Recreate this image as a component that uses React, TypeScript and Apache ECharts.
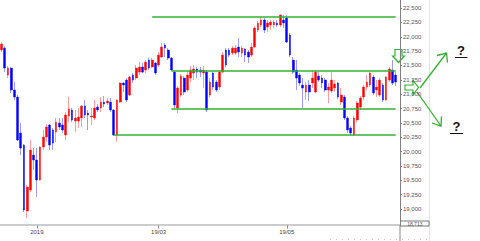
import React, { useEffect, useRef } from "react";
import * as echarts from "echarts";

// trading days shown (Dec 2018 - Jun 2019)
const dec2018 = [13, 14, 17, 18, 19, 20, 21, 25, 26, 27, 28];
const jan2019 = [4, 7, 8, 9, 10, 11, 15, 16, 17, 18, 21, 22, 23, 24, 25, 28, 29, 30, 31];
const feb2019 = [1, 4, 5, 6, 7, 8, 12, 13, 14, 15, 18, 19, 20, 21, 22, 25, 26, 27, 28];
const mar2019 = [1, 4, 5, 6, 7, 8, 11, 12, 13, 14, 15, 18, 19, 20, 22, 25, 26, 27, 28, 29];
const apr2019 = [1, 2, 3, 4, 5, 8, 9, 10, 11, 12, 15, 16, 17, 18, 19, 22, 23, 24, 25, 26];
const may2019 = [7, 8, 9, 10, 13, 14, 15, 16, 17, 20, 21, 22, 23, 24, 27, 28, 29, 30, 31];
const jun2019 = [3, 4, 5, 6, 7, 10, 11, 12, 13, 14, 17, 18, 19, 20, 21, 24];

const pad = (n: number) => (n < 10 ? "0" + n : "" + n);
const categories: string[] = [
  ...dec2018.map((d) => `2018/12/${pad(d)}`),
  ...jan2019.map((d) => `2019/01/${pad(d)}`),
  ...feb2019.map((d) => `2019/02/${pad(d)}`),
  ...mar2019.map((d) => `2019/03/${pad(d)}`),
  ...apr2019.map((d) => `2019/04/${pad(d)}`),
  ...may2019.map((d) => `2019/05/${pad(d)}`),
  ...jun2019.map((d) => `2019/06/${pad(d)}`),
];

const opens = [
  21769, 21803, 21333, 21455, 21072, 20950, 20323, 20114, 18966, 19331,
  19940, 19853, 19505, 20080, 20254, 20463, 20376, 20341, 20498, 20463,
  20289, 20620, 20724, 20532, 20532, 20585, 20793, 20672, 20602, 20585,
  20776, 20759, 20863, 20846, 20863, 20724, 20289, 20863, 21194, 21246,
  20985, 21333, 21281, 21385, 21473, 21420, 21594, 21473, 21542, 21507,
  21647, 21856, 21769, 21629, 21385, 20759, 20985, 21281, 21072, 21281,
  21368, 21438, 21420, 21368, 21385, 20985, 21368, 21211, 21124, 21385,
  21769, 21769, 21716, 21716, 21821, 21716, 21786, 21734, 21681, 21821,
  22117, 22204, 22291, 22169, 22204, 22204, 22239, 22204, 22291, 22326,
  22030, 21594, 21420, 21333, 21159, 21037, 21159, 21194, 21037, 21316,
  21281, 21246, 21072, 21055, 21107, 21194, 20863, 20950, 20585, 20411,
  20289, 20550, 20776, 20950, 21124, 21159, 21298, 21072, 20985, 21159,
  20898, 21246, 21420, 21333,
];
const closes = [
  21873, 21455, 21455, 21072, 20950, 20201, 20062, 18983, 19383, 20027,
  19853, 19505, 20080, 20254, 20428, 20114, 20149, 20515, 20428, 20376,
  20637, 20741, 20550, 20585, 20602, 20793, 20637, 20637, 20620, 20759,
  20724, 20863, 20828, 20881, 20724, 20289, 20898, 21194, 21159, 20898,
  21298, 21246, 21455, 21473, 21385, 21560, 21455, 21594, 21368, 21681,
  21821, 21803, 21629, 21420, 20811, 21107, 21316, 21037, 21333, 21420,
  21438, 21385, 21385, 21420, 20724, 21211, 21124, 21072, 21385, 21681,
  21507, 21681, 21803, 21803, 21734, 21803, 21681, 21647, 21821, 22152,
  22239, 22291, 22117, 22239, 22256, 22256, 22204, 22378, 22239, 21908,
  21681, 21385, 21281, 21194, 21107, 21159, 21037, 21281, 21385, 21246,
  21194, 21072, 21124, 21246, 21177, 20950, 20985, 20585, 20376, 20323,
  20585, 20846, 20933, 21124, 21211, 21368, 21020, 21124, 21246, 20898,
  21298, 21438, 21194, 21211,
];
const highs = [
  21908, 21838, 21490, 21473, 21211, 20985, 20498, 20132, 19418, 20201,
  20062, 20062, 20090, 20376, 20480, 20480, 20411, 20585, 20585, 20585,
  20689, 20950, 20759, 20724, 20759, 20811, 20898, 20724, 20759, 20898,
  20828, 20950, 20968, 20933, 20933, 20741, 20915, 21211, 21211, 21281,
  21316, 21368, 21507, 21560, 21542, 21594, 21629, 21629, 21560, 21734,
  21890, 21890, 21803, 21647, 21420, 21142, 21351, 21316, 21385, 21490,
  21507, 21473, 21473, 21490, 21420, 21281, 21385, 21246, 21420, 21734,
  21803, 21803, 21838, 21856, 21977, 21838, 21803, 21769, 21890, 22186,
  22273, 22343, 22326, 22291, 22291, 22291, 22291, 22395, 22378, 22378,
  22065, 21647, 21594, 21368, 21281, 21211, 21246, 21420, 21420, 21385,
  21333, 21281, 21194, 21385, 21246, 21211, 21107, 20985, 20620, 20446,
  20620, 20881, 20968, 21159, 21333, 21385, 21333, 21246, 21281, 21194,
  21316, 21473, 21594, 21385,
];
const lows = [
  21734, 21385, 21281, 21020, 20898, 20184, 19940, 18948, 18844, 19296,
  19679, 19209, 19495, 20027, 20167, 20027, 20027, 20167, 20376, 20323,
  20201, 20515, 20515, 20341, 20411, 20428, 20585, 20376, 20463, 20550,
  20689, 20689, 20776, 20811, 20689, 20271, 20167, 20846, 21037, 20863,
  20968, 21194, 21246, 21333, 21368, 21368, 21420, 21455, 21333, 21473,
  21629, 21647, 21594, 21403, 20759, 20672, 20950, 20985, 21037, 21211,
  21246, 21281, 21298, 21107, 20689, 20950, 21072, 21037, 21072, 21368,
  21473, 21647, 21681, 21681, 21647, 21647, 21560, 21542, 21647, 21803,
  22082, 22169, 22065, 22082, 22117, 22152, 22169, 22169, 22152, 21890,
  21647, 21351, 21072, 21142, 20759, 20898, 20881, 21107, 21020, 21211,
  21107, 21037, 20846, 21020, 21037, 20915, 20811, 20550, 20323, 20289,
  20271, 20515, 20724, 20898, 21072, 21124, 20985, 20950, 20950, 20863,
  20881, 21211, 21159, 21142,
];

// support / resistance levels drawn on the chart
const levelValues = [22352, 21415, 20741, 20289];
const levelStarts = ["2019/02/27", "2019/03/07", "2019/03/07", "2019/02/08"];
const levelEnds = ["2019/06/24", "2019/06/24", "2019/06/24", "2019/06/24"];

// axis ticks
const yTicks = [19000, 19250, 19500, 19750, 20000, 20250, 20500, 20750, 21000, 21250, 21500, 21750, 22000, 22250, 22500];
const yMin = 18713;
const yMax = 22640;
const axisMinLabel = "18,713";
const xTickDates = ["2019/01/04", "2019/03/01", "2019/05/07"];
const xTickTexts = ["2019", "19/03", "19/05"];

const GREEN = "#33b033";

export default function App() {
  const ref = useRef<HTMLDivElement>(null);
  useEffect(() => {
    if (!ref.current) return;
    const chart = echarts.init(ref.current, null, { renderer: "svg" });
    const wickData = categories.map((_, i) => [opens[i], closes[i], lows[i], highs[i]]);
    const bodyData = categories.map((_, i) => [
      opens[i],
      closes[i],
      Math.min(opens[i], closes[i]),
      Math.max(opens[i], closes[i]),
    ]);
    const tickIdx = new Set(xTickDates.map((d) => categories.indexOf(d)));
    const tickText: Record<string, string> = {};
    xTickDates.forEach((d, i) => (tickText[d] = xTickTexts[i]));
    const fmt = (v: number) => String(v).replace(/\B(?=(\d{3})+(?!\d))/g, ",");

    const option: any = {
      animation: false,
      backgroundColor: "#ffffff",
      grid: { left: -2.3, right: 82.7, top: 0, bottom: 15.5 },
      xAxis: {
        type: "category",
        data: categories,
        boundaryGap: true,
        axisLine: { show: false },
        axisTick: {
          show: true,
          alignWithLabel: true,
          interval: (i: number) => tickIdx.has(i),
          length: 3,
          lineStyle: { color: "#888", width: 1 },
        },
        axisLabel: {
          interval: (i: number) => tickIdx.has(i),
          formatter: (v: string) => tickText[v] || "",
          fontSize: 6,
          margin: 3,
          color: "#444",
          fontFamily: "Liberation Sans",
        },
        splitLine: { show: false },
      },
      yAxis: {
        type: "value",
        position: "right",
        offset: 2.7,
        min: yMin,
        max: yMax,
        scale: true,
        axisLine: { show: true, lineStyle: { color: "#808080", width: 1 } },
        axisTick: { show: true, customValues: yTicks, length: 2, lineStyle: { color: "#808080" } },
        axisLabel: {
          customValues: yTicks,
          formatter: (v: number) => fmt(v),
          fontSize: 6,
          margin: 3,
          color: "#555",
          fontFamily: "Liberation Sans",
        },
        splitLine: { show: false },
      },
      series: [
        {
          type: "candlestick",
          data: wickData,
          barWidth: 1,
          itemStyle: {
            color: "#ff9c9c",
            color0: "#9c9cff",
            borderColor: "#ff9c9c",
            borderColor0: "#9c9cff",
            borderWidth: 1,
          },
          silent: true,
        },
        {
          type: "candlestick",
          data: bodyData,
          barWidth: 2.2,
          itemStyle: {
            color: "#ff0000",
            color0: "#0000ff",
            borderColor: "#ff0000",
            borderColor0: "#0000ff",
            borderWidth: 0.4,
          },
          silent: true,
          markLine: {
            silent: true,
            symbol: ["none", "none"],
            label: { show: false },
            lineStyle: { color: GREEN, width: 1.6, type: "solid" },
            data: levelValues.map((v, i) => [
              { coord: [levelStarts[i], v] },
              { coord: [levelEnds[i], v] },
            ]),
          },
        },
      ],
      graphic: [
        // x axis line
        { type: "line", shape: { x1: 0, y1: 225, x2: 400, y2: 225 }, style: { stroke: "#999", lineWidth: 1 } },
        { type: "line", shape: { x1: 400, y1: 225, x2: 400, y2: 241 }, style: { stroke: "#888", lineWidth: 1 } },
        { type: "line", shape: { x1: 429.5, y1: 0, x2: 429.5, y2: 241 }, style: { stroke: "#e4e4e4", lineWidth: 1 } },
        { type: "line", shape: { x1: 330, y1: 239.5, x2: 430, y2: 239.5 }, style: { stroke: "#c8c8c8", lineWidth: 1, lineDash: [1, 5] } },
        // boxed min label
        { type: "rect", shape: { x: 400.5, y: 221, width: 28.5, height: 5 }, style: { fill: "#fff", stroke: "#555", lineWidth: 0.8 } },
        {
          type: "text",
          x: 414.8,
          y: 223.6,
          style: { text: axisMinLabel, fontSize: 5, fill: "#555", align: "center", verticalAlign: "middle", fontFamily: "Liberation Sans" },
        },
        // hollow down arrow
        {
          type: "polygon",
          shape: { points: [[395, 49.5], [402, 49.5], [402, 56], [404.5, 56], [398.5, 62.5], [392.5, 56], [395, 56]] },
          style: { fill: "#fff", stroke: GREEN, lineWidth: 1.2 },
        },
        // hollow right arrow
        {
          type: "polygon",
          shape: { points: [[405, 85], [413, 85], [413, 80.5], [418.5, 87.5], [413, 94.5], [413, 90], [405, 90]] },
          style: { fill: "#fff", stroke: GREEN, lineWidth: 1.2 },
        },
        // up-right arrow
        { type: "line", shape: { x1: 420, y1: 88, x2: 446.5, y2: 53 }, style: { stroke: GREEN, lineWidth: 1.3 } },
        { type: "polyline", shape: { points: [[437, 55.5], [446.5, 53], [447.5, 62.5]] }, style: { stroke: GREEN, lineWidth: 1.3, fill: null } },
        // down-right arrow
        { type: "line", shape: { x1: 417, y1: 92, x2: 441, y2: 126 }, style: { stroke: GREEN, lineWidth: 1.3 } },
        { type: "polyline", shape: { points: [[432, 123], [441, 126], [441.5, 116.5]] }, style: { stroke: GREEN, lineWidth: 1.3, fill: null } },
        // question marks
        {
          type: "text",
          x: 461,
          y: 50,
          style: { text: "?", fontSize: 13, fontWeight: "bold", fill: "#111", align: "center", verticalAlign: "middle", fontFamily: "Liberation Sans" },
        },
        { type: "line", shape: { x1: 455, y1: 57.5, x2: 467.5, y2: 57.5 }, style: { stroke: "#111", lineWidth: 1 } },
        {
          type: "text",
          x: 456.5,
          y: 126,
          style: { text: "?", fontSize: 13, fontWeight: "bold", fill: "#111", align: "center", verticalAlign: "middle", fontFamily: "Liberation Sans" },
        },
        { type: "line", shape: { x1: 450, y1: 133.5, x2: 463, y2: 133.5 }, style: { stroke: "#111", lineWidth: 1 } },
      ],
    };
    chart.setOption(option);
    return () => chart.dispose();
  }, []);
  return (
    <div
      ref={ref}
      style={{ position: "fixed", left: 0, top: 0, width: 480, height: 241, background: "#fff" }}
    />
  );
}
